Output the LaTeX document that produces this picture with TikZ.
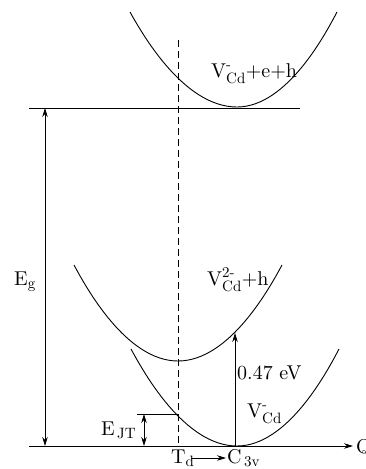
\documentclass[tikz,border=0pt]{standalone}
\usepackage{amsmath}
\usepackage{fontspec}
\setmainfont{lmroman10-regular}[Extension=.otf]
\newcommand\sbx[1]{\text{\fontsize{15}{15}\selectfont #1}}
\usetikzlibrary{arrows.meta}
\begin{document}
\begin{tikzpicture}[x=1pt,y=-1pt,
  lbl/.style={inner sep=0pt, anchor=base west, font=\fontsize{20}{24}\selectfont},
  curve/.style={line width=0.9pt},
  hline/.style={line width=0.9pt},
  tip/.style={-{Stealth[length=9pt,width=5.5pt]}, line width=0.8pt},
  dtip/.style={{Stealth[length=9pt,width=5.5pt]}-{Stealth[length=9pt,width=5.5pt]}, line width=0.8pt},
  dash line/.style={line width=0.8pt, dash pattern=on 7pt off 4pt}]
\useasboundingbox (0,0) rectangle (365,469);
% coordinates
\coordinate (topL) at (29,108);
\coordinate (topR) at (300,108);
\coordinate (axL) at (29,446);
\coordinate (axR) at (353,446);
\coordinate (egT) at (45,108);
\coordinate (egB) at (45,446);
\coordinate (jtL) at (137,414);
\coordinate (jtR) at (178,414);
\coordinate (jtT) at (144,414);
\coordinate (jtB) at (144,446);
\coordinate (optB) at (235,446);
\coordinate (optT) at (235,333);
\coordinate (dashT) at (178,40);
\coordinate (dashB) at (178,446);
\coordinate (trS) at (191,458);
\coordinate (trE) at (226,458);
% parabolas
\draw[curve] (130,12) parabola bend (237,107) (337,12);
\draw[curve] (74,265) parabola bend (178,361) (282,265);
\draw[curve] (131,349) parabola bend (237,446) (339,349);
% lines
\draw[hline] (topL) -- (topR);
\draw[hline, tip] (axL) -- (axR);
\draw[hline] (jtL) -- (jtR);
\draw[dtip] (egT) -- (egB);
\draw[dtip] (jtT) -- (jtB);
\draw[tip] (optB) -- (optT);
\draw[dash line] (dashT) -- (dashB);
% labels
\node[lbl] (lTop) at (211,77) {$\mathrm{V}^{\sbx{-}}_{\sbx{Cd}}$+e+h};
\node[lbl] (lMid) at (207,285) {$\mathrm{V}^{\sbx{2-}}_{\sbx{Cd}}$+h};
\node[lbl] (lOpt) at (237,379) {0.47 eV};
\node[lbl] (lLow) at (247,417) {$\mathrm{V}^{\sbx{-}}_{\sbx{Cd}}$};
\node[lbl] (lEg) at (14,285) {$\mathrm{E}_{\sbx{g}}$};
\node[lbl] (lJT) at (101,435) {$\mathrm{E}_{\,\sbx{JT}}$};
\node[lbl] (lQ) at (356,453) {Q};
\node[lbl] (lTd) at (171,463) {$\mathrm{T}_{\sbx{d}}$};
\node[lbl] (lC) at (227,463) {$\mathrm{C}_{\,\sbx{3v}}$};
\draw[tip] (trS) -- (trE);
\end{tikzpicture}
\end{document}
